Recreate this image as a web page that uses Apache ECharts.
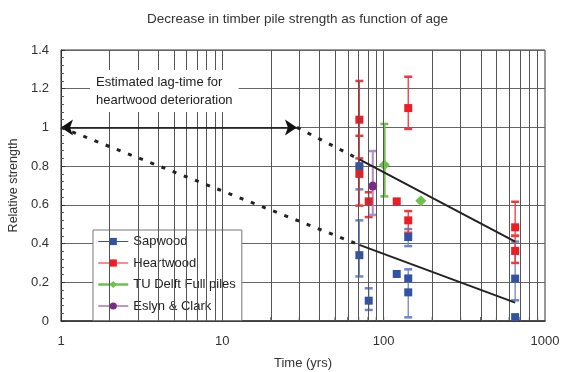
<!DOCTYPE html>
<html><head><meta charset="utf-8">
<script src="https://cdn.jsdelivr.net/npm/echarts@6/dist/echarts.min.js"></script>
<style>html,body{margin:0;padding:0;background:#fff}#c{width:561px;height:372px}</style>
</head><body><div id="c"></div>
<script>
// ---- data ----
const sapX = [70.7, 70.7, 80.8, 120.5, 142, 142, 142, 653, 653];
const sapY = [0.80, 0.34, 0.105, 0.243, 0.434, 0.22, 0.148, 0.219, 0.02];
const sapErrX = [70.7, 70.7, 80.8, 142, 142, 653];
const sapErrLow = [0.68, 0.23, 0.057, 0.387, 0.019, 0.107];
const sapErrHigh = [0.80, 0.52, 0.169, 0.475, 0.267, 0.41];

const heartX = [70.7, 70.7, 80.8, 120.5, 142, 142, 653, 653];
const heartY = [1.04, 0.76, 0.618, 0.618, 1.10, 0.52, 0.484, 0.362];
const heartErrX = [70.7, 70.7, 80.8, 142, 142, 653, 653];
const heartErrLow = [0.84, 0.596, 0.537, 0.992, 0.456, 0.44, 0.30];
const heartErrHigh = [1.24, 0.957, 0.665, 1.262, 0.568, 0.616, 0.44];

const tuX = [101, 170];
const tuY = [0.806, 0.621];
const tuErrX = [101];
const tuErrLow = [0.644];
const tuErrHigh = [1.018];

const ecX = [85.6];
const ecY = [0.697];
const ecErrX = [85.6];
const ecErrLow = [0.548];
const ecErrHigh = [0.878];

const upperSolidX = [70.7, 653];
const upperSolidY = [0.835, 0.41];
const lowerSolidX = [70.7, 653];
const lowerSolidY = [0.393, 0.095];
const upperDotX = [29, 70.7];
const upperDotY = [1.0, 0.835];
const lowerDotX = [1, 70.7];
const lowerDotY = [1.0, 0.393];
const lagArrowX = [1, 29];
const lagArrowY = [1.0, 1.0];

const xGridVals = [2,3,4,5,6,7,8,9,10,20,30,40,50,60,70,80,90,100,200,300,400,500,600,700,800,900];
const yTickVals = [0, 0.2, 0.4, 0.6, 0.8, 1, 1.2, 1.4];

const C = {
  sap: '#3253a4', sapErr: '#6d86c9',
  heart: '#ee1c25', heartErr: '#f2383f',
  tu: '#6cc24a', ec: '#7b2a8c', ecErr: '#b48ac6'
};
const FONT = 'Liberation Sans, Arial, sans-serif';

function pairs(xs, ys) { return xs.map((x, i) => [x, ys[i]]); }
function triples(xs, lo, hi) { return xs.map((x, i) => [x, lo[i], hi[i]]); }

function errSeries(xs, lo, hi, color, width) {
  return {
    type: 'custom', silent: true, z: 3,
    data: triples(xs, lo, hi),
    encode: { x: 0, y: [1, 2] },
    renderItem: function (params, api) {
      const x = api.value(0);
      const a = api.coord([x, api.value(1)]);
      const b = api.coord([x, api.value(2)]);
      const w = 4;
      const st = { stroke: color, lineWidth: width };
      return { type: 'group', children: [
        { type: 'line', shape: { x1: a[0], y1: a[1], x2: b[0], y2: b[1] }, style: st },
        { type: 'line', shape: { x1: a[0] - w, y1: a[1], x2: a[0] + w, y2: a[1] }, style: { stroke: color, lineWidth: 2.5 } },
        { type: 'line', shape: { x1: b[0] - w, y1: b[1], x2: b[0] + w, y2: b[1] }, style: { stroke: color, lineWidth: 2.5 } }
      ]};
    }
  };
}

function ptSeries(name, xs, ys, color, symbol, size) {
  return {
    name: name, type: 'line', z: 4, data: pairs(xs, ys),
    symbol: symbol, symbolSize: size, showSymbol: true, showAllSymbol: true,
    itemStyle: { color: color, opacity: 1 },
    lineStyle: { opacity: 0, width: 0 },
    emphasis: { disabled: true }, animation: false
  };
}

function trend(xs, ys, dotted) {
  return {
    type: 'line', z: 5, silent: true, data: pairs(xs, ys), symbol: 'none',
    lineStyle: dotted ? { color: '#222', width: 3, type: [4, 8], cap: 'butt' } : { color: '#222', width: 2 },
    animation: false
  };
}

const chart = echarts.init(document.getElementById('c'));
chart.setOption({
  animation: false,
  backgroundColor: '#fff',
  title: {
    text: 'Decrease in timber pile strength as function of age',
    left: 142, top: 7,
    textStyle: { fontFamily: FONT, fontSize: 13.5, fontWeight: 'normal', color: '#333' }
  },
  grid: { left: 61, right: 16, top: 50, bottom: 51, show: true, borderColor: '#333', borderWidth: 1, backgroundColor: 'transparent', containLabel: false, outerBoundsMode: 'none' },
  xAxis: {
    type: 'log', logBase: 10, min: 1, max: 1000,
    name: 'Time (yrs)', nameLocation: 'middle', nameGap: 36,
    nameTextStyle: { fontFamily: FONT, fontSize: 13, color: '#333' },
    axisLine: { lineStyle: { color: '#333', width: 1.5 } },
    axisTick: { show: false },
    splitLine: { show: false },
    axisLabel: { fontFamily: FONT, fontSize: 13, color: '#333', margin: 14, formatter: v => String(v) }
  },
  yAxis: {
    type: 'value', min: 0, max: 1.4, interval: 0.2,
    name: 'Relative strength', nameLocation: 'middle', nameGap: 28,
    nameTextStyle: { fontFamily: FONT, fontSize: 12.5, color: '#333' },
    axisLine: { show: true, lineStyle: { color: '#333', width: 1 } },
    axisTick: { show: true, inside: true, length: 4, lineStyle: { color: '#333' } },
    minorTick: { show: true, splitNumber: 5, length: 3, lineStyle: { color: '#555' } },
    splitLine: { show: true, lineStyle: { color: '#666', width: 1 } },
    axisLabel: { fontFamily: FONT, fontSize: 13, color: '#333', margin: 12 }
  },
  legend: {
    orient: 'vertical', left: 93, top: 230,
    itemWidth: 30, itemHeight: 9, itemGap: 8.5,
    padding: [5, 6, 8, 4],
    backgroundColor: '#fff', borderColor: '#777', borderWidth: 1, borderRadius: 0,
    textStyle: { fontFamily: FONT, fontSize: 13, color: '#222' },
    lineStyle: { opacity: 1, width: 1 },
    data: [
      { name: 'Sapwood', lineStyle: { color: C.sap, width: 1, opacity: 1 } },
      { name: 'Heartwood', lineStyle: { color: C.heart, width: 1, opacity: 1 } },
      { name: 'TU Delft Full piles', lineStyle: { color: C.tu, width: 2.5, opacity: 1 } },
      { name: 'Eslyn & Clark', lineStyle: { color: C.ec, width: 1, opacity: 1 } }
    ],
    selectedMode: false
  },
  graphic: [{
    type: 'text', left: 90, top: 70, z: 100,
    style: {
      text: 'Estimated lag-time for\nheartwood deterioration',
      font: '13px Liberation Sans, Arial, sans-serif', fill: '#222',
      align: 'center', lineHeight: 18,
      backgroundColor: '#fff', padding: [3, 6, 3, 6]
    }
  }],
  series: [
    {
      type: 'line', data: [], z: 1, silent: true,
      markLine: {
        silent: true, symbol: 'none', label: { show: false },
        lineStyle: { color: '#555', width: 1, type: 'solid' },
        data: xGridVals.map(v => ({ xAxis: v }))
      }
    },
    {
      type: 'custom', silent: true, z: 2,
      data: xGridVals.map(v => [v, 0]),
      renderItem: function (params, api) {
        const p = api.coord([api.value(0), 0]);
        return { type: 'line', shape: { x1: p[0], y1: p[1], x2: p[0], y2: p[1] - 4 }, style: { stroke: '#333', lineWidth: 1 } };
      }
    },
    trend(lowerDotX, lowerDotY, true),
    trend(upperDotX, upperDotY, true),
    trend(upperSolidX, upperSolidY, false),
    trend(lowerSolidX, lowerSolidY, false),
    {
      type: 'line', data: [], z: 6, silent: true,
      markLine: {
        silent: true, symbol: ['arrow', 'arrow'], symbolSize: [12, 12],
        label: { show: false },
        lineStyle: { color: '#111', width: 1.5, type: 'solid' },
        data: [[{ coord: [lagArrowX[0], lagArrowY[0]] }, { coord: [lagArrowX[1], lagArrowY[1]] }]]
      }
    },
    errSeries(sapErrX, sapErrLow, sapErrHigh, C.sapErr, 1.3),
    ptSeries('Sapwood', sapX, sapY, C.sap, 'rect', 8),
    errSeries(heartErrX, heartErrLow, heartErrHigh, C.heartErr, 1.3),
    ptSeries('Heartwood', heartX, heartY, C.heart, 'rect', 8),
    errSeries(tuErrX, tuErrLow, tuErrHigh, C.tu, 2.5),
    ptSeries('TU Delft Full piles', tuX, tuY, C.tu, 'diamond', 11),
    errSeries(ecErrX, ecErrLow, ecErrHigh, C.ecErr, 2),
    ptSeries('Eslyn & Clark', ecX, ecY, C.ec, 'circle', 9)
  ]
});
</script>
</body></html>
